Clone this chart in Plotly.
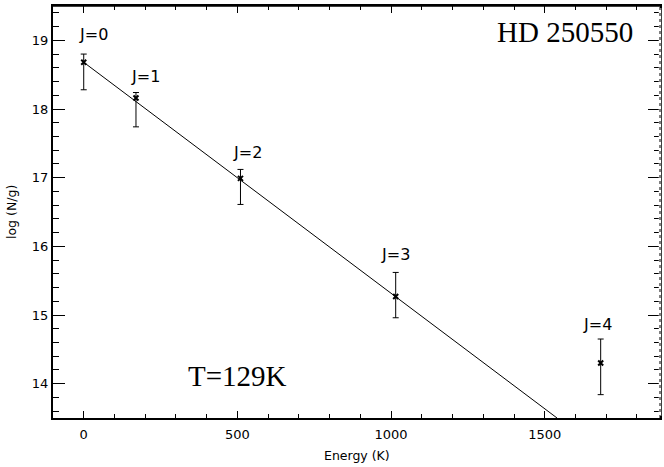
import plotly.graph_objects as go

# Data
energy = [0, 170, 510, 1015, 1682]
logNg = [18.68, 18.16, 16.99, 15.27, 14.30]
err_plus = [0.12, 0.08, 0.13, 0.35, 0.35]
err_minus = [0.40, 0.42, 0.38, 0.31, 0.46]
labels = ["J=0", "J=1", "J=2", "J=3", "J=4"]
label_x = [31, 200, 532, 1013, 1671]
label_y = [19.09, 18.47, 17.37, 15.88, 14.86]

fit_x = [0, 1540]
fit_y = [18.68, 13.5]

x_range = [-100, 1875]
y_range = [13.5, 19.5]
x_ticks = [0, 500, 1000, 1500]
y_ticks = [14, 15, 16, 17, 18, 19]

star_name = "HD 250550"
temp_label = "T=129K"
x_title = "Energy (K)"
y_title = "log (N/g)"

SANS = "DejaVu Sans, Verdana, sans-serif"
SERIF = "Liberation Serif, Times New Roman, serif"

fig = go.Figure()
fig.add_trace(go.Scatter(x=fit_x, y=fit_y, mode="lines",
                         line=dict(color="black", width=1), showlegend=False, hoverinfo="skip"))
fig.add_trace(go.Scatter(
    x=energy, y=logNg, mode="markers",
    marker=dict(symbol="x-thin", size=5, line=dict(color="black", width=2), color="black"),
    error_y=dict(type="data", symmetric=False, array=err_plus, arrayminus=err_minus,
                 color="black", thickness=1, width=3),
    showlegend=False))

for t, lx, ly in zip(labels, label_x, label_y):
    fig.add_annotation(x=lx, y=ly, text=t, showarrow=False,
                       font=dict(family=SANS, size=16, color="black"))

fig.add_annotation(x=1565, y=19.12, text=star_name, showarrow=False,
                   font=dict(family=SERIF, size=29, color="black"))
fig.add_annotation(x=500, y=14.11, text=temp_label, showarrow=False,
                   font=dict(family=SERIF, size=29, color="black"))

# axis titles
fig.add_annotation(xref="paper", yref="paper", x=0.5, y=0, yanchor="middle", yshift=-37,
                   text=x_title, showarrow=False,
                   font=dict(family=SANS, size=12.5, color="black"))
fig.add_annotation(xref="paper", yref="paper", x=0, y=0.5, xanchor="center", xshift=-42,
                   text=y_title, textangle=-90, showarrow=False,
                   font=dict(family=SANS, size=12.5, color="black"))

# frame: top solid; right dotted (cover the solid mirror line first)
fig.add_shape(type="line", xref="paper", yref="paper", x0=0, x1=1, y0=1, y1=1,
              line=dict(color="black", width=1.5))
fig.add_shape(type="line", xref="paper", yref="paper", x0=1, x1=1, y0=0.005, y1=0.995,
              line=dict(color="white", width=2.5))
fig.add_shape(type="line", xref="paper", yref="paper", x0=1, x1=1, y0=0, y1=1,
              line=dict(color="black", width=1, dash="dot"))

fig.update_xaxes(range=x_range, tickvals=x_ticks, ticks="inside", ticklen=7, tickwidth=1,
                 tickcolor="black", showline=True, linecolor="black", linewidth=2, mirror="allticks",
                 showgrid=False, zeroline=False, ticklabelstandoff=3,
                 minor=dict(dtick=100, ticks="inside", ticklen=4, tickcolor="black", showgrid=False),
                 tickfont=dict(family=SANS, size=13, color="black"))
fig.update_yaxes(range=y_range, tickvals=y_ticks, ticks="inside", ticklen=12, tickwidth=1,
                 tickcolor="black", showline=True, linecolor="black", linewidth=2, mirror="allticks",
                 showgrid=False, zeroline=False,
                 minor=dict(dtick=0.2, ticks="inside", ticklen=6, tickcolor="black", showgrid=False),
                 tickfont=dict(family=SANS, size=13, color="black"))

fig.update_layout(width=664, height=467, margin=dict(l=53, r=2, t=6, b=49),
                  plot_bgcolor="white", paper_bgcolor="white")

fig.write_html("out.html")
